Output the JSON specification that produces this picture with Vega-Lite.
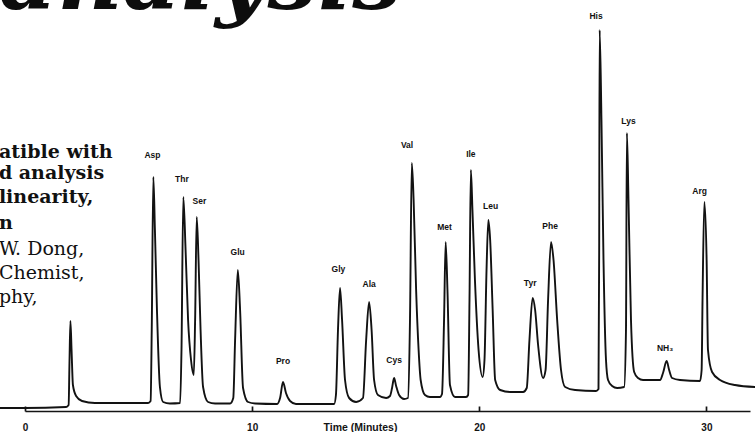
{
  "$schema": "https://vega.github.io/schema/vega-lite/v6.json",
  "width": 725,
  "height": 411,
  "autosize": {"type": "none"},
  "padding": {"left": 25, "right": 5, "top": 0, "bottom": 21},
  "background": "white",
  "config": {"view": {"stroke": null}},
  "datasets": {
    "trace": [
      {"t": -1.10, "v": 3}, {"t": 0.00, "v": 3}, {"t": 1.81, "v": 4}, {"t": 1.92, "v": 6},
      {"t": 1.96, "v": 51}, {"t": 2.00, "v": 90}, {"t": 2.05, "v": 61}, {"t": 2.11, "v": 26},
      {"t": 2.25, "v": 15}, {"t": 2.51, "v": 10}, {"t": 3.08, "v": 8}, {"t": 5.42, "v": 8},
      {"t": 5.53, "v": 10}, {"t": 5.58, "v": 81}, {"t": 5.65, "v": 234}, {"t": 5.72, "v": 181},
      {"t": 5.81, "v": 101}, {"t": 5.94, "v": 24}, {"t": 6.08, "v": 9}, {"t": 6.38, "v": 7.5},
      {"t": 6.83, "v": 8}, {"t": 6.89, "v": 61}, {"t": 6.97, "v": 214}, {"t": 7.07, "v": 161},
      {"t": 7.18, "v": 91}, {"t": 7.31, "v": 51}, {"t": 7.43, "v": 36}, {"t": 7.49, "v": 91},
      {"t": 7.56, "v": 194}, {"t": 7.64, "v": 151}, {"t": 7.73, "v": 81}, {"t": 7.84, "v": 24},
      {"t": 8.06, "v": 9}, {"t": 8.37, "v": 7.5}, {"t": 9.03, "v": 7.5}, {"t": 9.17, "v": 13},
      {"t": 9.25, "v": 71}, {"t": 9.37, "v": 141}, {"t": 9.47, "v": 101}, {"t": 9.60, "v": 23},
      {"t": 9.82, "v": 9}, {"t": 10.13, "v": 7.5}, {"t": 11.10, "v": 7}, {"t": 11.23, "v": 13},
      {"t": 11.36, "v": 29}, {"t": 11.49, "v": 18}, {"t": 11.67, "v": 10}, {"t": 11.93, "v": 7},
      {"t": 13.61, "v": 7}, {"t": 13.69, "v": 16}, {"t": 13.78, "v": 81}, {"t": 13.87, "v": 123},
      {"t": 13.96, "v": 91}, {"t": 14.09, "v": 31}, {"t": 14.27, "v": 13}, {"t": 14.58, "v": 9},
      {"t": 14.88, "v": 13}, {"t": 15.02, "v": 71}, {"t": 15.15, "v": 109}, {"t": 15.26, "v": 81},
      {"t": 15.37, "v": 31}, {"t": 15.54, "v": 16}, {"t": 15.90, "v": 13}, {"t": 16.07, "v": 15},
      {"t": 16.16, "v": 23}, {"t": 16.25, "v": 33}, {"t": 16.34, "v": 25}, {"t": 16.47, "v": 16},
      {"t": 16.69, "v": 12}, {"t": 16.86, "v": 13}, {"t": 16.95, "v": 91}, {"t": 17.03, "v": 248},
      {"t": 17.11, "v": 211}, {"t": 17.22, "v": 121}, {"t": 17.33, "v": 61}, {"t": 17.42, "v": 31},
      {"t": 17.61, "v": 16}, {"t": 17.83, "v": 14}, {"t": 18.27, "v": 14}, {"t": 18.36, "v": 17},
      {"t": 18.45, "v": 91}, {"t": 18.52, "v": 169}, {"t": 18.60, "v": 121}, {"t": 18.71, "v": 26},
      {"t": 18.93, "v": 14}, {"t": 19.42, "v": 14}, {"t": 19.51, "v": 16}, {"t": 19.57, "v": 111},
      {"t": 19.63, "v": 241}, {"t": 19.70, "v": 201}, {"t": 19.81, "v": 131}, {"t": 19.97, "v": 61},
      {"t": 20.15, "v": 34}, {"t": 20.23, "v": 51}, {"t": 20.32, "v": 141}, {"t": 20.40, "v": 191},
      {"t": 20.48, "v": 171}, {"t": 20.59, "v": 101}, {"t": 20.70, "v": 31}, {"t": 20.92, "v": 21},
      {"t": 21.36, "v": 19}, {"t": 21.93, "v": 19}, {"t": 22.09, "v": 23}, {"t": 22.21, "v": 71},
      {"t": 22.35, "v": 113}, {"t": 22.46, "v": 101}, {"t": 22.59, "v": 66}, {"t": 22.81, "v": 33},
      {"t": 22.92, "v": 41}, {"t": 23.03, "v": 111}, {"t": 23.16, "v": 169}, {"t": 23.27, "v": 151},
      {"t": 23.43, "v": 91}, {"t": 23.60, "v": 41}, {"t": 23.78, "v": 24}, {"t": 24.22, "v": 21},
      {"t": 25.14, "v": 20}, {"t": 25.25, "v": 22}, {"t": 25.28, "v": 161}, {"t": 25.30, "v": 381},
      {"t": 25.38, "v": 291}, {"t": 25.47, "v": 151}, {"t": 25.58, "v": 51}, {"t": 25.67, "v": 31},
      {"t": 25.85, "v": 25}, {"t": 26.07, "v": 23}, {"t": 26.38, "v": 24}, {"t": 26.46, "v": 81},
      {"t": 26.50, "v": 278}, {"t": 26.57, "v": 211}, {"t": 26.68, "v": 91}, {"t": 26.82, "v": 39},
      {"t": 26.99, "v": 33}, {"t": 27.21, "v": 31}, {"t": 27.96, "v": 31}, {"t": 28.09, "v": 38},
      {"t": 28.25, "v": 50}, {"t": 28.36, "v": 41}, {"t": 28.49, "v": 33}, {"t": 28.84, "v": 31},
      {"t": 29.72, "v": 30}, {"t": 29.79, "v": 41}, {"t": 29.83, "v": 111}, {"t": 29.91, "v": 209},
      {"t": 30.01, "v": 151}, {"t": 30.07, "v": 61}, {"t": 30.25, "v": 39}, {"t": 30.60, "v": 31},
      {"t": 31.26, "v": 26}, {"t": 32.15, "v": 24}
    ],
    "peaks": [
      {"t": 5.61, "v": 256, "label": "Asp"},
      {"t": 6.91, "v": 232, "label": "Thr"},
      {"t": 7.68, "v": 210.5, "label": "Ser"},
      {"t": 9.36, "v": 159, "label": "Glu"},
      {"t": 11.36, "v": 50, "label": "Pro"},
      {"t": 13.80, "v": 142, "label": "Gly"},
      {"t": 15.15, "v": 127, "label": "Ala"},
      {"t": 16.25, "v": 51, "label": "Cys"},
      {"t": 16.82, "v": 266, "label": "Val"},
      {"t": 18.47, "v": 184, "label": "Met"},
      {"t": 19.63, "v": 257, "label": "Ile"},
      {"t": 20.50, "v": 205, "label": "Leu"},
      {"t": 22.24, "v": 128, "label": "Tyr"},
      {"t": 23.12, "v": 185, "label": "Phe"},
      {"t": 25.14, "v": 395, "label": "His"},
      {"t": 26.57, "v": 290, "label": "Lys"},
      {"t": 28.18, "v": 63, "label": "NH₃"},
      {"t": 29.70, "v": 220, "label": "Arg"}
    ],
    "heading": [
      {"t": 16.64, "v": 402, "label": "analysis"}
    ],
    "boldLines": [
      {"t": -1.15, "v": 253.3, "label": "atible with"},
      {"t": -1.15, "v": 231.7, "label": "d analysis"},
      {"t": -1.15, "v": 207.7, "label": "linearity,"},
      {"t": -1.15, "v": 182, "label": "n"}
    ],
    "plainLines": [
      {"t": -1.15, "v": 156, "label": "W. Dong,"},
      {"t": -1.15, "v": 132, "label": "Chemist,"},
      {"t": -1.15, "v": 108, "label": "phy,"}
    ]
  },
  "layer": [
    {
      "data": {"name": "trace"},
      "mark": {"type": "line", "interpolate": "monotone", "color": "#121212", "strokeWidth": 1.9},
      "encoding": {
        "x": {
          "field": "t", "type": "quantitative",
          "scale": {"domain": [0, 31.92], "nice": false, "zero": false},
          "axis": {
            "values": [0, 10, 20, 30],
            "domain": true, "domainColor": "#141414", "domainWidth": 1.7,
            "ticks": true, "tickSize": -5, "tickColor": "#141414", "tickWidth": 1.7,
            "grid": false,
            "labelFont": "Liberation Sans", "labelFontWeight": "bold", "labelFontSize": 10,
            "labelColor": "#141414", "labelPadding": 21, "labelBaseline": "middle",
            "labelFlush": false,
            "title": "Time (Minutes)",
            "titleFont": "Liberation Sans", "titleFontWeight": "bold", "titleFontSize": 10.5,
            "titleColor": "#141414", "titleX": 335, "titleY": 16, "titleBaseline": "middle"
          }
        },
        "y": {
          "field": "v", "type": "quantitative",
          "scale": {"domain": [0, 411], "nice": false, "zero": false},
          "axis": null
        }
      }
    },
    {
      "data": {"name": "peaks"},
      "mark": {"type": "text", "font": "Liberation Sans", "fontWeight": "bold", "fontSize": 8.5,
               "color": "#111111", "align": "center", "baseline": "middle"},
      "encoding": {
        "x": {"field": "t", "type": "quantitative", "scale": {"domain": [0, 31.92], "nice": false, "zero": false}},
        "y": {"field": "v", "type": "quantitative", "scale": {"domain": [0, 411], "nice": false, "zero": false}, "axis": null},
        "text": {"field": "label"}
      }
    },
    {
      "data": {"name": "heading"},
      "mark": {"type": "text", "font": "DejaVu Serif", "fontWeight": "bold", "fontStyle": "italic",
               "fontSize": 90, "color": "#0d0d0d", "align": "right", "baseline": "alphabetic"},
      "encoding": {
        "x": {"field": "t", "type": "quantitative", "scale": {"domain": [0, 31.92], "nice": false, "zero": false}},
        "y": {"field": "v", "type": "quantitative", "scale": {"domain": [0, 411], "nice": false, "zero": false}, "axis": null},
        "text": {"field": "label"}
      }
    },
    {
      "data": {"name": "boldLines"},
      "mark": {"type": "text", "font": "DejaVu Serif", "fontWeight": "bold", "fontSize": 19,
               "color": "#111111", "align": "left", "baseline": "alphabetic"},
      "encoding": {
        "x": {"field": "t", "type": "quantitative", "scale": {"domain": [0, 31.92], "nice": false, "zero": false}},
        "y": {"field": "v", "type": "quantitative", "scale": {"domain": [0, 411], "nice": false, "zero": false}, "axis": null},
        "text": {"field": "label"}
      }
    },
    {
      "data": {"name": "plainLines"},
      "mark": {"type": "text", "font": "DejaVu Serif", "fontSize": 19,
               "color": "#111111", "align": "left", "baseline": "alphabetic"},
      "encoding": {
        "x": {"field": "t", "type": "quantitative", "scale": {"domain": [0, 31.92], "nice": false, "zero": false}},
        "y": {"field": "v", "type": "quantitative", "scale": {"domain": [0, 411], "nice": false, "zero": false}, "axis": null},
        "text": {"field": "label"}
      }
    }
  ]
}
